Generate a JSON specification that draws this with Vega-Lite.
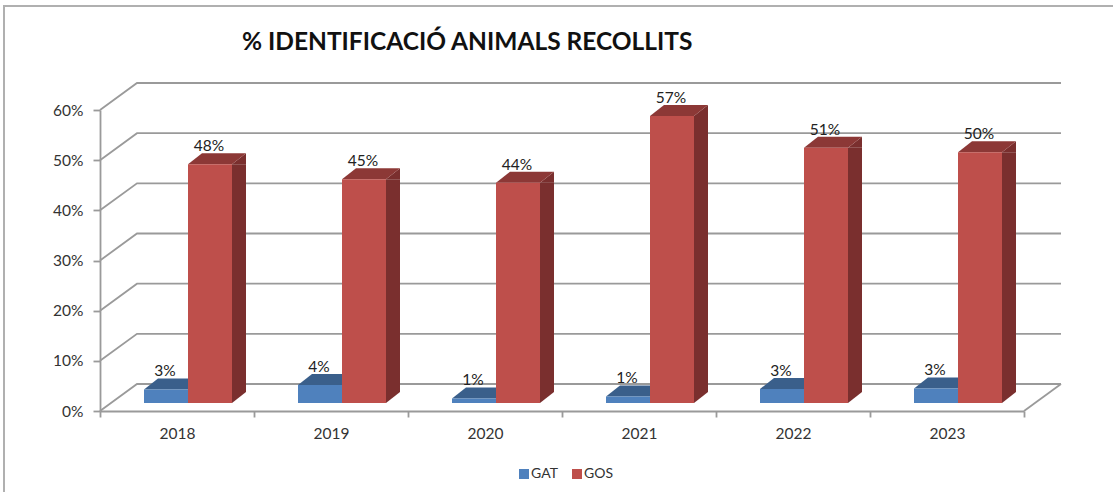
{
"$schema":"https://vega.github.io/schema/vega-lite/v6.json",
"width":924,"height":301,
"autosize":{"type":"none"},
"padding":{"left":100,"top":110,"right":89,"bottom":81},
"background":"white",
"view":{"stroke":null},
"config":{"view":{"stroke":null}},
"title":{"text":"% IDENTIFICACIÓ  ANIMALS RECOLLITS","anchor":"start","frame":"group","dx":142,"offset":-77,"font":"Lato","fontSize":24.5,"fontWeight":"bold","color":"#111111","baseline":"bottom"},
"datasets":{
"bars":[
{"year":"2018","series":"GAT","value":0.027},{"year":"2018","series":"GOS","value":0.476},
{"year":"2019","series":"GAT","value":0.036},{"year":"2019","series":"GOS","value":0.446},
{"year":"2020","series":"GAT","value":0.009},{"year":"2020","series":"GOS","value":0.439},
{"year":"2021","series":"GAT","value":0.013},{"year":"2021","series":"GOS","value":0.572},
{"year":"2022","series":"GAT","value":0.028},{"year":"2022","series":"GOS","value":0.509},
{"year":"2023","series":"GAT","value":0.029},{"year":"2023","series":"GOS","value":0.5}
],
"grid":[{"v":0},{"v":0.1},{"v":0.2},{"v":0.3},{"v":0.4},{"v":0.5},{"v":0.6}]
},
"layer":[
{"data":{"name":"grid"},"transform":[{"filter":"datum.v==0.6"}],
 "mark":{"type":"point","shape":"M-1.92,7.64L-1.92,-2.08L20.26,-2.08","size":10000,"filled":false,"stroke":"#b0b0b0","strokeWidth":2,"opacity":1},
 "encoding":{"x":{"datum":"2018","type":"ordinal","bandPosition":0},"y":{"field":"v","type":"quantitative"}}},
{"data":{"name":"grid"},
 "mark":{"type":"point","shape":"M0,0L0.74,-0.54L19.22,-0.54","size":10000,"filled":false,"stroke":"#9a9a9a","strokeWidth":1.8,"opacity":1},
 "encoding":{"x":{"datum":"2018","type":"ordinal","bandPosition":0},
  "y":{"field":"v","type":"quantitative","scale":{"domain":[0,0.6],"nice":false},
   "axis":{"values":[0,0.1,0.2,0.3,0.4,0.5,0.6],"format":".0%","title":null,"grid":false,"domainColor":"#9a9a9a","domainWidth":1.8,"tickColor":"#9a9a9a","tickWidth":1.8,"tickSize":7,"labelPadding":10,"labelFont":"Lato","labelFontSize":15.5,"labelColor":"#333333"}}}},
{"data":{"name":"grid"},"transform":[{"filter":"datum.v==0"}],
 "mark":{"type":"point","shape":"M19.22,-0.54L18.48,0","size":10000,"filled":false,"stroke":"#9a9a9a","strokeWidth":1.8,"opacity":1},
 "encoding":{"x":{"datum":"2018","type":"ordinal","bandPosition":0},"y":{"field":"v","type":"quantitative"}}},
{"data":{"name":"bars"},"transform":[{"filter":"datum.series=='GAT'"}],
 "mark":{"type":"point","shape":"M-0.44,0L0.44,0L0.72,-0.22L-0.16,-0.22Z","size":10000,"filled":true,"fill":"#3A5F8B","opacity":1,"xOffset":-11,"yOffset":-8},
 "encoding":{"x":{"field":"year","type":"ordinal"},"y":{"field":"value","type":"quantitative"}}},
{"data":{"name":"bars"},"transform":[{"filter":"datum.series=='GAT'"}],
 "mark":{"type":"bar","width":44,"xOffset":-11,"yOffset":-8,"y2Offset":-8},
 "encoding":{"x":{"field":"year","type":"ordinal","scale":{"paddingInner":0,"paddingOuter":0},
   "axis":{"title":null,"labelAngle":0,"labelAlign":"center","tickBand":"extent","domainColor":"#9a9a9a","domainWidth":1.8,"tickColor":"#9a9a9a","tickWidth":1.8,"tickSize":6,"labelPadding":9,"labelFont":"Lato","labelFontSize":15.5,"labelColor":"#333333","labelBaseline":"top"}},
  "y":{"field":"value","type":"quantitative","stack":null},"y2":{"datum":0},
  "color":{"field":"series","type":"nominal","scale":{"domain":["GAT","GOS"],"range":["#4F81BD","#BE4F4B"]},
   "legend":{"title":null,"orient":"none","legendX":417,"legendY":357,"direction":"horizontal","symbolType":"square","symbolSize":100,"symbolStrokeWidth":0,"labelFont":"Lato","labelFontSize":14,"labelColor":"#333333","columnPadding":12,"labelOffset":0}}}},
{"data":{"name":"bars"},"transform":[{"filter":"datum.series=='GOS'"}],
 "mark":{"type":"bar","width":14,"color":"#7A2F2E","xOffset":62,"yOffset":-8,"y2Offset":-19},
 "encoding":{"x":{"field":"year","type":"ordinal"},"y":{"field":"value","type":"quantitative","stack":null},"y2":{"datum":0}}},
{"data":{"name":"bars"},"transform":[{"filter":"datum.series=='GOS'"}],
 "mark":{"type":"point","shape":"M0.44,0L0.72,-0.22L0.72,0Z","size":10000,"filled":true,"fill":"#7A2F2E","opacity":1,"xOffset":33,"yOffset":-8},
 "encoding":{"x":{"field":"year","type":"ordinal"},"y":{"field":"value","type":"quantitative"}}},
{"data":{"name":"bars"},"transform":[{"filter":"datum.series=='GOS'"}],
 "mark":{"type":"point","shape":"M0.44,-0.22L0.72,-0.22L0.44,0Z","size":10000,"filled":true,"fill":"#7A2F2E","opacity":1,"xOffset":33,"yOffset":-8},
 "encoding":{"x":{"field":"year","type":"ordinal"},"y":{"datum":0,"type":"quantitative"}}},
{"data":{"name":"bars"},"transform":[{"filter":"datum.series=='GOS'"}],
 "mark":{"type":"point","shape":"M-0.44,0L0.44,0L0.72,-0.22L-0.16,-0.22Z","size":10000,"filled":true,"fill":"#8C3836","opacity":1,"xOffset":33,"yOffset":-8},
 "encoding":{"x":{"field":"year","type":"ordinal"},"y":{"field":"value","type":"quantitative"}}},
{"data":{"name":"bars"},"transform":[{"filter":"datum.series=='GOS'"}],
 "mark":{"type":"bar","width":44,"xOffset":33,"yOffset":-8,"y2Offset":-8},
 "encoding":{"x":{"field":"year","type":"ordinal"},"y":{"field":"value","type":"quantitative","stack":null},"y2":{"datum":0},"color":{"field":"series","type":"nominal"}}},
{"data":{"name":"bars"},"transform":[{"filter":"datum.series=='GAT'"}],
 "mark":{"type":"text","font":"Lato","fontSize":15.5,"color":"#222222","xOffset":-12,"yOffset":-26},
 "encoding":{"x":{"field":"year","type":"ordinal"},"y":{"field":"value","type":"quantitative"},"text":{"field":"value","type":"quantitative","format":".0%"}}},
{"data":{"name":"bars"},"transform":[{"filter":"datum.series=='GOS'"}],
 "mark":{"type":"text","font":"Lato","fontSize":15.5,"color":"#222222","xOffset":32,"yOffset":-26},
 "encoding":{"x":{"field":"year","type":"ordinal"},"y":{"field":"value","type":"quantitative"},"text":{"field":"value","type":"quantitative","format":".0%"}}}
]
}
